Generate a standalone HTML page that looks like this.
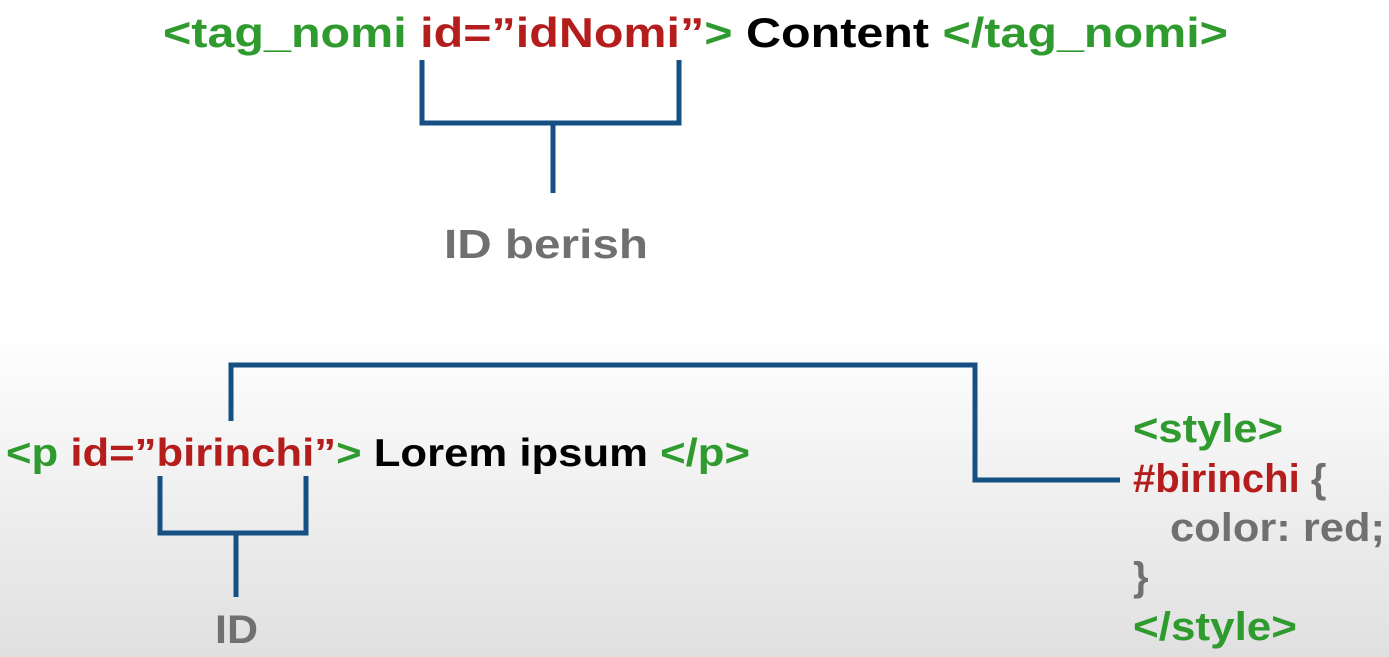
<!DOCTYPE html>
<html><head><style>
html,body{margin:0;padding:0}
body{width:1389px;height:657px;overflow:hidden;background:linear-gradient(to bottom,#fff 0px,#fff 330px,#e0e0e0 657px);}
svg{display:block}
text{font-family:"Liberation Sans",Arial,sans-serif;font-weight:bold}
.g{fill:#2f9b2f}.r{fill:#b51d1d}.k{fill:#000}.y{fill:#707070}
</style></head><body>
<svg width="1389" height="657" viewBox="0 0 1389 657">
<g fill="none" stroke="#154f83" stroke-width="5">
<polyline points="422,60 422,123 679,123 679,60"/>
<line x1="553" y1="123" x2="553" y2="193"/>
<polyline points="160,476 160,533 306,533 306,476"/>
<line x1="236" y1="533" x2="236" y2="597"/>
<polyline points="231,421 231,365 975,365 975,480 1120,480"/>
</g>
<text x="163" y="47" font-size="42" textLength="1065" lengthAdjust="spacingAndGlyphs"><tspan class="g">&lt;tag_nomi </tspan><tspan class="r">id=”idNomi”</tspan><tspan class="g">&gt; </tspan><tspan class="k">Content </tspan><tspan class="g">&lt;/tag_nomi&gt;</tspan></text>
<text x="444" y="258" font-size="41" class="y" textLength="204" lengthAdjust="spacingAndGlyphs">ID berish</text>
<text x="6" y="466" font-size="39" textLength="744" lengthAdjust="spacingAndGlyphs"><tspan class="g">&lt;p </tspan><tspan class="r">id=”birinchi”</tspan><tspan class="g">&gt; </tspan><tspan class="k">Lorem ipsum </tspan><tspan class="g">&lt;/p&gt;</tspan></text>
<text x="215" y="643" font-size="40" class="y" textLength="43" lengthAdjust="spacingAndGlyphs">ID</text>
<g font-size="40">
<text x="1133" y="442" class="g" textLength="150" lengthAdjust="spacingAndGlyphs">&lt;style&gt;</text>
<text x="1133" y="492"><tspan class="r">#birinchi</tspan><tspan class="y"> {</tspan></text>
<text x="1170" y="541" class="y" textLength="215" lengthAdjust="spacingAndGlyphs">color: red;</text>
<text x="1133" y="590" class="y">}</text>
<text x="1133" y="640" class="g" textLength="164" lengthAdjust="spacingAndGlyphs">&lt;/style&gt;</text>
</g>
</svg>
</body></html>
